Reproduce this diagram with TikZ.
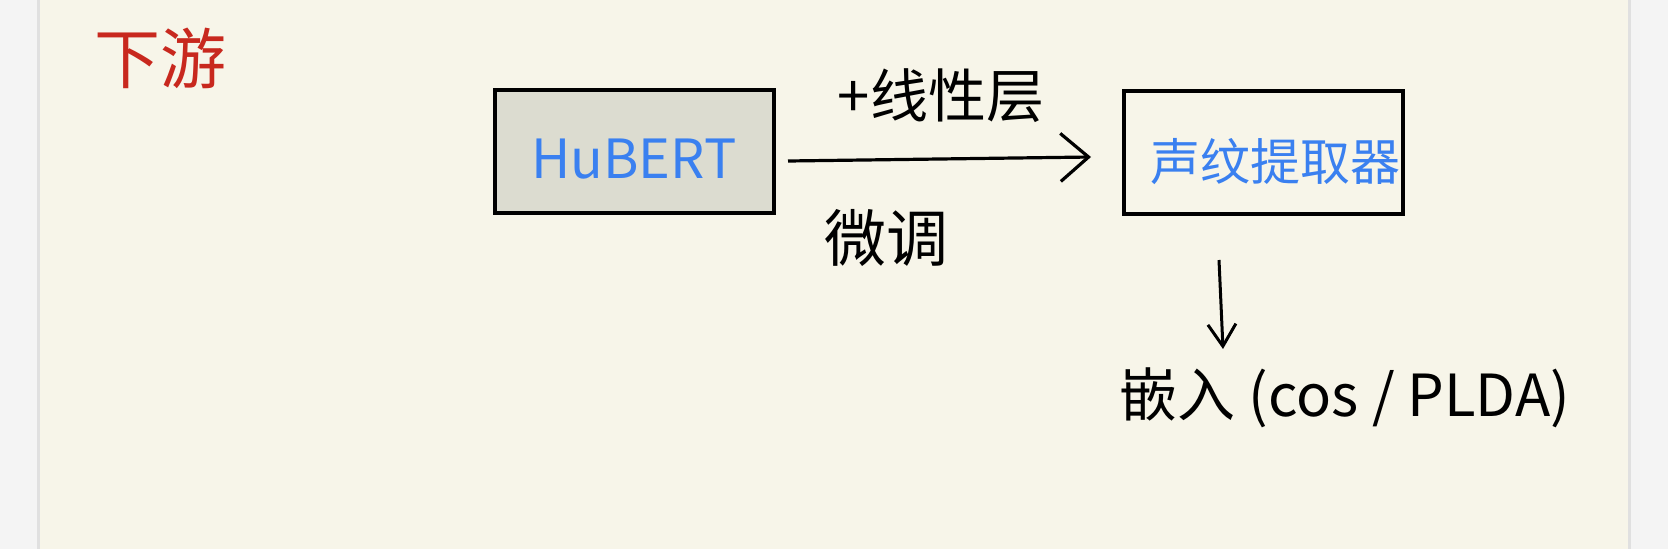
\documentclass[tikz,border=0pt]{standalone}
\usepackage{fontspec}
\newfontfamily\cjk{Noto Sans CJK SC}
\usetikzlibrary{arrows.meta}
\definecolor{pagebg}{HTML}{F4F4F4}
\definecolor{paper}{HTML}{F7F5E9}
\definecolor{boxgray}{HTML}{DCDCD0}
\definecolor{inkblue}{HTML}{3A80F0}
\definecolor{inkred}{HTML}{C8281E}
\tikzset{
  box/.style={draw=black, line width=4pt, minimum width=279pt, minimum height=123pt, inner sep=0pt},
  ink/.style={inner sep=0pt},
  conn/.style={line width=3.2pt, -{Straight Barb[length=28pt, width=48pt, line width=3.2pt]}},
  dconn/.style={line width=3pt, -{Straight Barb[length=22pt, width=28pt, line width=3pt]}},
}
\begin{document}
\begin{tikzpicture}[x=1pt, y=-1pt]
\useasboundingbox (0,0) rectangle (1668,549);
\fill[pagebg] (0,0) rectangle (1668,549);
\fill[black!12] (37,0) rectangle (1631,549);
\fill[paper] (40,0) rectangle (1628,549);
\node[ink, text=inkred, font=\cjk\fontsize{66}{66}\selectfont] (title) at (160,58) {下游};
\node[box, fill=boxgray] (hubert) at (634.5,151.5) {};
\node[ink, text=inkblue, font=\cjk\fontsize{54}{54}\selectfont] (hutext) at (634,159) {HuBERT};
\node[box, fill=paper] (extr) at (1263,152.5) {};
\node[ink, text=inkblue, font=\cjk\fontsize{50}{50}\selectfont] (extext) at (1275,162) {声纹提取器};
\coordinate (a1) at (788,161);
\coordinate (a2) at (1091,157);
\draw[conn] (a1) -- (a2);
\node[ink, font=\cjk\fontsize{58}{58}\selectfont] (lin) at (941,96) {+线性层};
\node[ink, font=\cjk\fontsize{62}{62}\selectfont] (ft) at (886,238) {微调};
\node[ink, font=\cjk\fontsize{58}{58}\selectfont] (emb) at (1345,398) {嵌入 (cos / PLDA)};
\coordinate (d1) at (1219,260);
\coordinate (d2) at (1223,349);
\draw[dconn] (d1) -- (d2);
\end{tikzpicture}
\end{document}
